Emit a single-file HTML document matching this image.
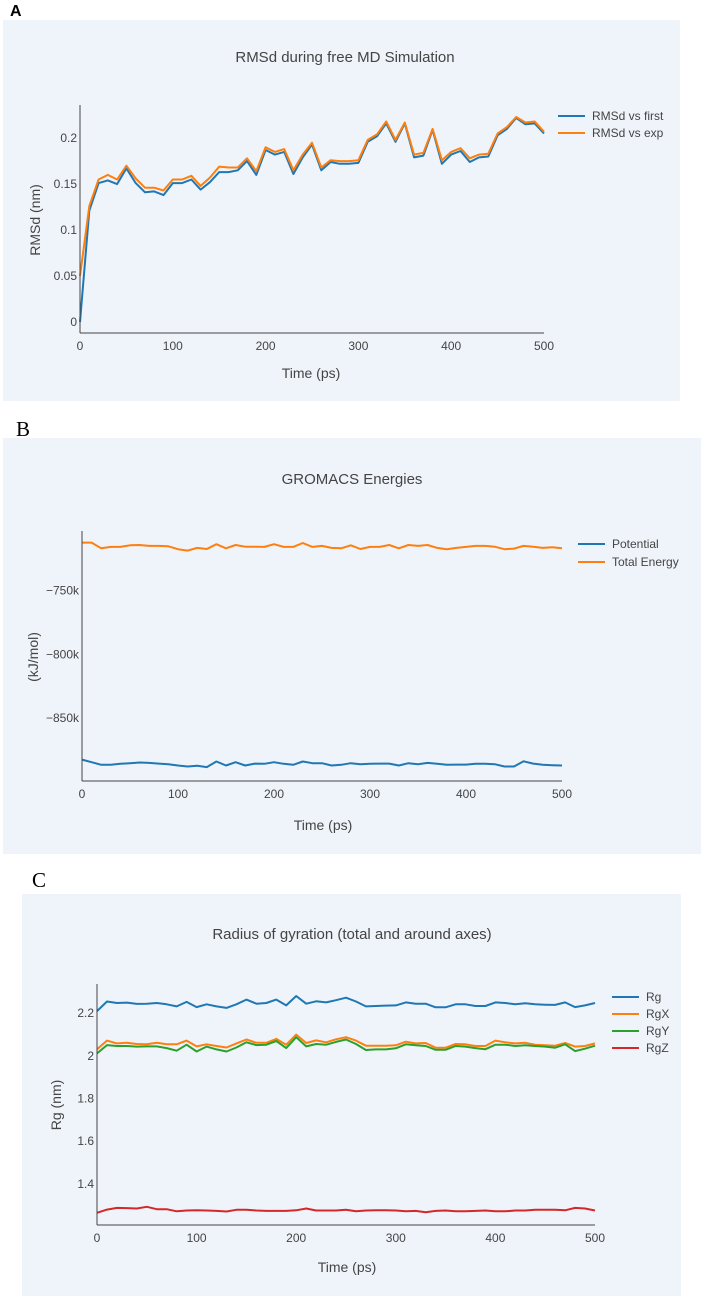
<!DOCTYPE html>
<html><head><meta charset="utf-8">
<style>
html,body{margin:0;padding:0;background:#fff;}
svg{display:block;font-family:"Liberation Sans",sans-serif;}
</style></head>
<body>
<svg id="fig" width="703" height="1299" viewBox="0 0 703 1299" xmlns="http://www.w3.org/2000/svg">
  <text x="10" y="16" font-size="16" font-weight="bold" fill="#000">A</text>
  <text x="16" y="436" font-size="21" font-family="Liberation Serif, serif" fill="#000">B</text>
  <text x="32" y="887" font-size="21" font-family="Liberation Serif, serif" fill="#000">C</text>
</svg>
<script>
const NS = "http://www.w3.org/2000/svg";
const time = [0,10,20,30,40,50,60,70,80,90,100,110,120,130,140,150,160,170,180,190,200,210,220,230,240,250,260,270,280,290,300,310,320,330,340,350,360,370,380,390,400,410,420,430,440,450,460,470,480,490,500];
const xTicks = [0,100,200,300,400,500];

const rmsdFirst = [0,0.121,0.151,0.154,0.150,0.167,0.151,0.141,0.142,0.138,0.151,0.151,0.155,0.144,0.152,0.163,0.163,0.165,0.175,0.160,0.187,0.182,0.185,0.161,0.179,0.193,0.165,0.174,0.172,0.172,0.173,0.196,0.202,0.216,0.196,0.216,0.179,0.181,0.209,0.172,0.182,0.186,0.174,0.179,0.180,0.203,0.210,0.222,0.215,0.216,0.205];
const rmsdExp = [0.050,0.126,0.155,0.160,0.155,0.170,0.156,0.146,0.146,0.143,0.155,0.155,0.159,0.148,0.157,0.169,0.168,0.168,0.178,0.164,0.190,0.185,0.188,0.165,0.182,0.195,0.168,0.176,0.175,0.175,0.176,0.198,0.204,0.218,0.198,0.217,0.182,0.184,0.210,0.176,0.185,0.189,0.178,0.182,0.183,0.205,0.212,0.223,0.217,0.218,0.207];
const rmsdTicks = [0,0.05,0.1,0.15,0.2];
const rmsdTickLabels = ["0","0.05","0.1","0.15","0.2"];

const potential = [-882.6,-884.6,-886.7,-886.7,-885.9,-885.4,-884.9,-885.2,-885.7,-886.2,-887.2,-888.0,-887.5,-888.5,-884.1,-887.2,-884.6,-887.2,-885.7,-885.9,-884.6,-885.9,-886.7,-884.1,-885.4,-885.4,-887.2,-886.7,-885.4,-886.2,-885.9,-885.7,-885.7,-887.2,-885.4,-886.2,-885.2,-885.9,-886.7,-886.5,-886.5,-885.9,-885.9,-886.2,-888.0,-888.0,-883.9,-885.7,-886.7,-887.0,-887.2];
const totalEnergy = [-712.2,-712.2,-716.7,-715.6,-715.6,-714.3,-714.1,-714.8,-714.8,-715.1,-717.4,-718.5,-716.4,-717.2,-713.5,-716.7,-714.1,-715.4,-715.4,-715.6,-713.5,-715.6,-715.6,-712.5,-715.6,-714.8,-716.4,-716.7,-714.3,-717.2,-715.6,-715.6,-714.1,-716.7,-714.1,-714.8,-714.1,-716.4,-717.4,-716.4,-715.6,-714.8,-714.8,-715.4,-717.4,-716.9,-714.8,-715.4,-716.4,-715.9,-716.7];
const energyTicks = [-850,-800,-750];
const energyTickLabels = ["−850k","−800k","−750k"];

const rg = [2.209,2.254,2.247,2.249,2.243,2.244,2.247,2.241,2.231,2.252,2.228,2.241,2.231,2.224,2.241,2.263,2.244,2.247,2.263,2.236,2.280,2.244,2.255,2.250,2.260,2.272,2.254,2.231,2.233,2.235,2.236,2.250,2.244,2.244,2.227,2.227,2.241,2.241,2.233,2.233,2.250,2.247,2.241,2.246,2.241,2.239,2.238,2.250,2.228,2.236,2.247];
const rgX = [2.031,2.071,2.058,2.061,2.055,2.054,2.061,2.054,2.054,2.071,2.044,2.054,2.046,2.039,2.058,2.076,2.061,2.061,2.079,2.052,2.099,2.060,2.072,2.063,2.077,2.087,2.071,2.047,2.047,2.047,2.049,2.066,2.058,2.060,2.038,2.038,2.055,2.054,2.046,2.046,2.071,2.063,2.058,2.061,2.052,2.049,2.047,2.060,2.043,2.046,2.058];
const rgY = [2.011,2.050,2.046,2.046,2.043,2.044,2.044,2.036,2.024,2.052,2.020,2.043,2.030,2.020,2.039,2.063,2.050,2.052,2.069,2.036,2.087,2.044,2.055,2.052,2.065,2.076,2.055,2.027,2.030,2.030,2.035,2.054,2.049,2.046,2.028,2.028,2.046,2.043,2.036,2.031,2.052,2.052,2.046,2.049,2.046,2.043,2.038,2.054,2.022,2.033,2.047];
const rgZ = [1.265,1.280,1.288,1.287,1.285,1.293,1.282,1.282,1.272,1.276,1.277,1.276,1.274,1.271,1.279,1.279,1.276,1.274,1.274,1.274,1.277,1.285,1.276,1.276,1.276,1.279,1.272,1.276,1.277,1.277,1.276,1.272,1.274,1.268,1.274,1.276,1.272,1.272,1.274,1.276,1.272,1.272,1.276,1.276,1.279,1.279,1.279,1.277,1.288,1.285,1.276];
const rgTicks = [1.4,1.6,1.8,2,2.2];
const rgTickLabels = ["1.4","1.6","1.8","2","2.2"];

const svg = document.getElementById('fig');
function mk(tag, attrs, parent){
  const e = document.createElementNS(NS, tag);
  for (const k in attrs) e.setAttribute(k, attrs[k]);
  (parent||svg).appendChild(e);
  return e;
}

function panel(cfg){
  const g = mk('g', {});
  
  
  const bg = mk('rect', {x:cfg.bg[0], y:cfg.bg[1], width:cfg.bg[2]-cfg.bg[0], height:cfg.bg[3]-cfg.bg[1], fill:'#eff4fa'}, g);
  
  
  const t = mk('text', {x:cfg.titleX, y:cfg.titleY, 'font-size':15, fill:'#444', 'text-anchor':'middle'}, g);
  t.textContent = cfg.title;
  
  
  const L = cfg.left, R = cfg.right, T = cfg.top, B = cfg.bottom;
  const xs = v => L + (v - 0) / 500 * (R - L);
  const ys = v => B - (v - cfg.ymin) / (cfg.ymax - cfg.ymin) * (B - T);
  cfg.series.forEach(s => {
    const pts = time.map((tv,i) => xs(tv).toFixed(1)+','+ys(s.data[i]).toFixed(1)).join(' ');
    const pl = mk('polyline', {points:pts, fill:'none', stroke:s.color, 'stroke-width':2, 'stroke-linejoin':'round'}, g);
    
    
  });
  const ya = mk('line', {x1:L, y1:T, x2:L, y2:B, stroke:'#444', 'stroke-width':1}, g);
  
  
  const xa = mk('line', {x1:L, y1:B, x2:R, y2:B, stroke:'#444', 'stroke-width':1}, g);
  
  
  xTicks.forEach(v => {
    const tx = mk('text', {x:xs(v), y:B+17, 'font-size':12, fill:'#444', 'text-anchor':'middle'}, g);
    tx.textContent = String(v);
    
    
  });
  cfg.yTicks.forEach((v,i) => {
    const ty = mk('text', {x:L-3, y:ys(v)+4, 'font-size':12, fill:'#444', 'text-anchor':'end'}, g);
    ty.textContent = cfg.yLabels[i];
    
    
  });
  const xt = mk('text', {x:cfg.xTitle[0], y:cfg.xTitle[1], 'font-size':14, fill:'#444', 'text-anchor':'middle'}, g);
  xt.textContent = 'Time (ps)';
  
  
  const yt = mk('text', {x:0, y:0, 'font-size':14, fill:'#444', 'text-anchor':'middle', transform:'translate('+cfg.yTitle[0]+','+cfg.yTitle[1]+') rotate(-90)'}, g);
  yt.textContent = cfg.yTitleText;
  
  
  cfg.series.forEach((s,i) => {
    const ly = cfg.legend[1] + i*cfg.legend[2];
    const lg = mk('g', {}, g);
    
    
    mk('line', {x1:cfg.legend[0], y1:ly, x2:cfg.legend[0]+27, y2:ly, stroke:s.color, 'stroke-width':2}, lg);
    const lt = mk('text', {x:cfg.legend[0]+34, y:ly+4, 'font-size':12, fill:'#444'}, lg);
    lt.textContent = s.label;
  });
}

panel({name:'rmsd-chart', bg:[3,20,680,401], title:'RMSd during free MD Simulation', titleX:345, titleY:62,
  left:80, right:544, top:105, bottom:333, ymin:-0.012, ymax:0.236,
  yTicks:rmsdTicks, yLabels:rmsdTickLabels, xTitle:[311,378], yTitle:[40,220], yTitleText:'RMSd (nm)',
  legend:[558,116,17],
  series:[{id:'rmsd-vs-first', label:'RMSd vs first', color:'#1f77b4', data:rmsdFirst},
          {id:'rmsd-vs-exp', label:'RMSd vs exp', color:'#ff7f0e', data:rmsdExp}]});

panel({name:'energy-chart', bg:[3,438,701,854], title:'GROMACS Energies', titleX:352, titleY:484,
  left:82, right:562, top:531, bottom:781, ymin:-899.4, ymax:-703.1,
  yTicks:energyTicks, yLabels:energyTickLabels, xTitle:[323,830], yTitle:[38,657], yTitleText:'(kJ/mol)',
  legend:[578,544,18],
  series:[{id:'potential', label:'Potential', color:'#1f77b4', data:potential},
          {id:'total-energy', label:'Total Energy', color:'#ff7f0e', data:totalEnergy}]});

panel({name:'rg-chart', bg:[22,894,681,1296], title:'Radius of gyration (total and around axes)', titleX:352, titleY:939,
  left:97, right:595, top:984, bottom:1225, ymin:1.208, ymax:2.336,
  yTicks:rgTicks, yLabels:rgTickLabels, xTitle:[347,1272], yTitle:[61,1105], yTitleText:'Rg (nm)',
  legend:[612,997,17],
  series:[{id:'rg', label:'Rg', color:'#1f77b4', data:rg},
          {id:'rgx', label:'RgX', color:'#ff7f0e', data:rgX},
          {id:'rgy', label:'RgY', color:'#2ca02c', data:rgY},
          {id:'rgz', label:'RgZ', color:'#d62728', data:rgZ}]});
</script>
</body></html>
